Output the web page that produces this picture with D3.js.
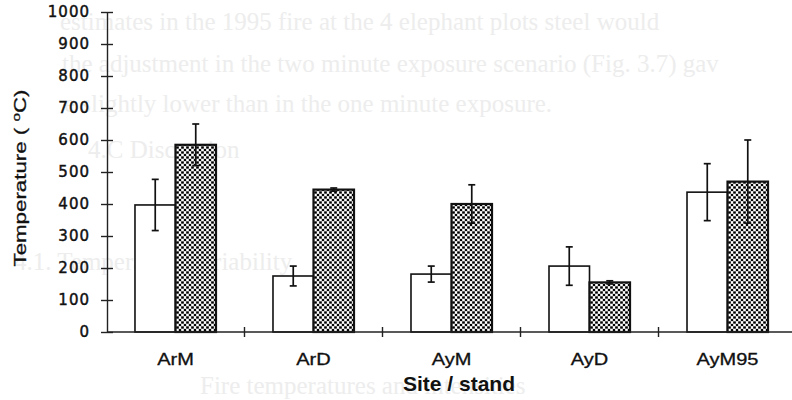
<!DOCTYPE html>
<html>
<head>
<meta charset="utf-8">
<script src="https://cdn.jsdelivr.net/npm/d3@7"></script>
<style>
  html, body { margin: 0; padding: 0; background: #fff; }
  svg { display: block; }
</style>
</head>
<body>
<div id="chart"></div>
<script>
const categories = ['ArM', 'ArD', 'AyM', 'AyD', 'AyM95'];
const oneMinute = [397, 175, 181, 206, 437];
const oneMinuteErr = [80, 31, 25, 60, 89];
const twoMinute = [585, 445, 400, 155, 470];
const twoMinuteErr = [65, 5, 60, 5, 130];
const yTicks = [0, 100, 200, 300, 400, 500, 600, 700, 800, 900, 1000];

// faint text showing through from the other side of the scanned page
const bleedLines = [
  'estimates in the 1995 fire at the 4 elephant plots steel would',
  'the adjustment in the two minute exposure scenario (Fig. 3.7) gav',
  'e slightly lower than in the one minute exposure.',
  '4.C Discussion',
  '4.1.  Temperature variability',
  'Fire temperatures and intensities'
];

const width = 792;
const height = 400;

const svg = d3.select('#chart')
  .append('svg')
  .attr('width', width)
  .attr('height', height);

const defs = svg.append('defs');
const dots = defs.append('pattern')
  .attr('id', 'dots')
  .attr('patternUnits', 'userSpaceOnUse')
  .attr('width', 5)
  .attr('height', 5);
dots.append('rect').attr('width', 5).attr('height', 5).attr('fill', '#fff');
dots.append('path')
  .attr('d', 'M0,0L5,5M5,0L0,5')
  .attr('stroke', '#777')
  .attr('stroke-width', 0.7);
[[0, 0], [5, 0], [0, 5], [5, 5], [2.5, 2.5]].forEach(p => {
  dots.append('circle').attr('cx', p[0]).attr('cy', p[1]).attr('r', 1.35).attr('fill', '#000');
});

// bleed-through text
const bleed = svg.append('g')
  .attr('font-family', '"Liberation Serif", serif')
  .attr('font-size', 25)
  .attr('fill', '#ededed');
const bleedPos = [[60, 30], [62, 72], [64, 112], [88, 158], [14, 270], [200, 394]];
bleed.selectAll('text')
  .data(bleedLines)
  .enter()
  .append('text')
  .attr('x', (d, i) => bleedPos[i][0])
  .attr('y', (d, i) => bleedPos[i][1])
  .text(d => d);

const x = d3.scaleBand()
  .domain(categories)
  .range([106, 797])
  .paddingInner(0.413)
  .paddingOuter(0.21);

const x1 = d3.scaleBand()
  .domain(['one', 'two'])
  .range([0, x.bandwidth()]);

const y = d3.scaleLinear()
  .domain([0, 1000])
  .range([332, 12]);

const rows = categories.map((c, i) => ({
  cat: c,
  bars: [
    { key: 'one', value: oneMinute[i], err: oneMinuteErr[i] },
    { key: 'two', value: twoMinute[i], err: twoMinuteErr[i] }
  ]
}));

const axisColor = '#222';
const inkColor = '#111';

// bars
const groups = svg.selectAll('g.group')
  .data(rows)
  .enter()
  .append('g')
  .attr('class', 'group')
  .attr('transform', d => 'translate(' + x(d.cat) + ',0)');

groups.selectAll('rect')
  .data(d => d.bars)
  .enter()
  .append('rect')
  .attr('x', d => x1(d.key))
  .attr('y', d => y(d.value))
  .attr('width', x1.bandwidth())
  .attr('height', d => y(0) - y(d.value))
  .attr('fill', d => d.key === 'one' ? '#fff' : 'url(#dots)')
  .attr('stroke', inkColor)
  .attr('stroke-width', d => d.key === 'one' ? 1.6 : 2.2);

// error bars
const err = groups.selectAll('g.err')
  .data(d => d.bars)
  .enter()
  .append('g')
  .attr('class', 'err')
  .attr('stroke', inkColor)
  .attr('stroke-width', 1.7)
  .attr('transform', d => 'translate(' + (x1(d.key) + x1.bandwidth() / 2) + ',0)');

err.append('line')
  .attr('y1', d => y(d.value + d.err))
  .attr('y2', d => y(d.value - d.err));
err.append('line')
  .attr('x1', -3.5).attr('x2', 3.5)
  .attr('y1', d => y(d.value + d.err))
  .attr('y2', d => y(d.value + d.err));
err.append('line')
  .attr('x1', -3.5).attr('x2', 3.5)
  .attr('y1', d => y(d.value - d.err))
  .attr('y2', d => y(d.value - d.err));

// stretch text along its direction like the scanned original
function stretch(sel, k) {
  sel.each(function () {
    const w = this.getComputedTextLength();
    d3.select(this)
      .attr('textLength', w * k)
      .attr('lengthAdjust', 'spacingAndGlyphs');
  });
}

// y axis
const yAxis = svg.append('g')
  .attr('transform', 'translate(107,0)')
  .call(d3.axisLeft(y)
    .tickValues(yTicks)
    .tickFormat(d3.format('d'))
    .tickSizeOuter(0)
    .tickSizeInner(6)
    .tickPadding(11));
yAxis.select('.domain').attr('stroke', axisColor).attr('stroke-width', 1.4);
yAxis.selectAll('.tick line')
  .attr('x1', -6).attr('x2', 6)
  .attr('stroke', axisColor).attr('stroke-width', 1.4);
yAxis.selectAll('.tick text')
  .attr('font-family', '"DejaVu Sans", sans-serif')
  .attr('font-size', 15)
  .attr('letter-spacing', 1)
  .attr('fill', inkColor)
  .attr('stroke', inkColor)
  .attr('stroke-width', 0.45);

// x axis
const xAxis = svg.append('g')
  .attr('transform', 'translate(0,332)');
xAxis.append('line')
  .attr('x1', 107).attr('x2', width)
  .attr('stroke', axisColor).attr('stroke-width', 1.4);
xAxis.selectAll('line.sep')
  .data(categories.slice(0, -1))
  .enter()
  .append('line')
  .attr('class', 'sep')
  .attr('x1', d => x(d) + x.bandwidth() + (x.step() - x.bandwidth()) / 2)
  .attr('x2', d => x(d) + x.bandwidth() + (x.step() - x.bandwidth()) / 2)
  .attr('y1', -5).attr('y2', 5)
  .attr('stroke', axisColor).attr('stroke-width', 1.4);
xAxis.selectAll('text')
  .data(categories)
  .enter()
  .append('text')
  .attr('x', d => x(d) + x.bandwidth() / 2)
  .attr('y', 33)
  .attr('text-anchor', 'middle')
  .attr('font-family', 'Arial, "Liberation Sans", sans-serif')
  .attr('font-size', 16)
  .attr('fill', inkColor)
  .attr('stroke', inkColor)
  .attr('stroke-width', 0.3)
  .text(d => d)
  .call(stretch, 1.25);

// axis titles
svg.append('text')
  .attr('x', 459)
  .attr('y', 391)
  .attr('text-anchor', 'middle')
  .attr('font-family', 'Arial, "Liberation Sans", sans-serif')
  .attr('font-size', 21)
  .attr('font-weight', 'bold')
  .attr('fill', inkColor)
  .text('Site / stand');

const yTitle = svg.append('text')
  .attr('transform', 'translate(26,178) rotate(-90)')
  .attr('text-anchor', 'middle')
  .attr('font-family', 'Arial, "Liberation Sans", sans-serif')
  .attr('font-size', 16)
  .attr('fill', inkColor)
  .attr('stroke', inkColor)
  .attr('stroke-width', 0.3);
yTitle.append('tspan').text('Temperature ( ');
yTitle.append('tspan').attr('font-size', 11).attr('dy', -6).text('o');
yTitle.append('tspan').attr('dy', 6).text('C)');
yTitle.attr('textLength', 177).attr('lengthAdjust', 'spacingAndGlyphs');
</script>
</body>
</html>
